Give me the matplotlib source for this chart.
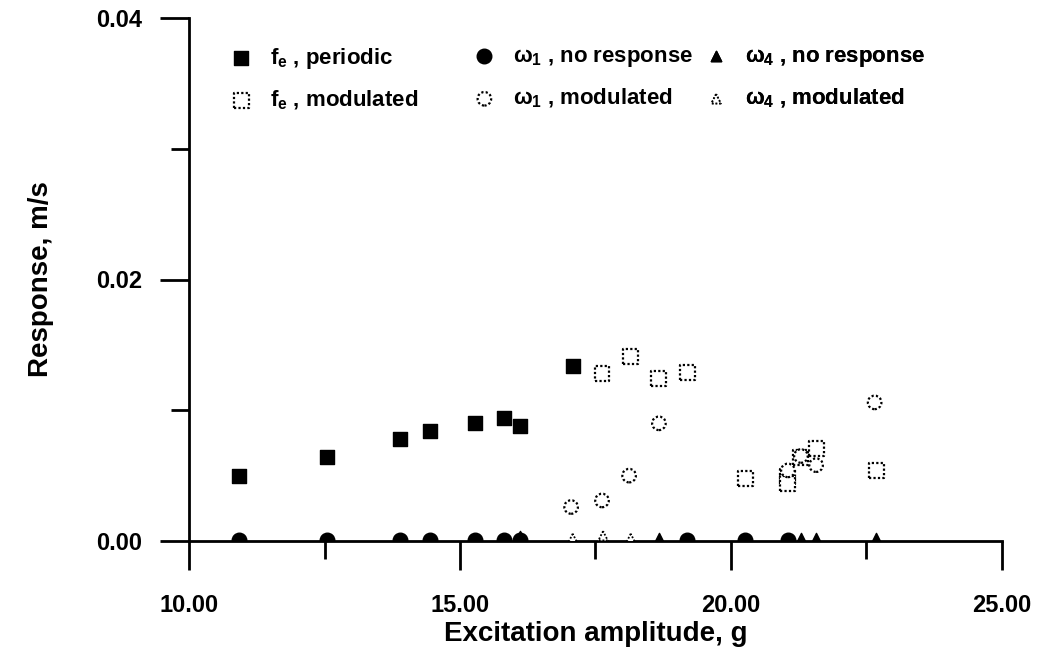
import matplotlib
matplotlib.use("Agg")
import matplotlib.pyplot as plt
from matplotlib.ticker import FixedLocator, FixedFormatter

plt.rcParams["font.family"] = ["Liberation Sans", "DejaVu Sans"]
plt.rcParams["font.weight"] = "bold"
plt.rcParams["mathtext.fontset"] = "custom"
plt.rcParams["mathtext.rm"] = "Liberation Sans:bold"
plt.rcParams["mathtext.it"] = "Liberation Sans:bold"
plt.rcParams["mathtext.bf"] = "Liberation Sans:bold"

# Data
fe_per_x = [10.92, 12.55, 13.89, 14.45, 15.28, 15.81, 16.11, 17.08]
fe_per_y = [0.0050, 0.0064, 0.0078, 0.0084, 0.0090, 0.0094, 0.0088, 0.0134]

fe_mod_x = [17.62, 18.14, 18.67, 19.19, 20.26, 21.05, 21.05, 21.29, 21.57, 22.68]
fe_mod_y = [0.0128, 0.0141, 0.0124, 0.0129, 0.0048, 0.0049, 0.0044, 0.0064, 0.0071, 0.0054]

w1_none_x = [10.92, 12.55, 13.89, 14.45, 15.28, 15.81, 16.11, 19.19, 20.26, 21.05]
w1_none_y = [0.0001, 0.0001, 0.0001, 0.0001, 0.0001, 0.0001, 0.0001, 0.0001, 0.0001, 0.0001]

w1_mod_x = [17.05, 17.62, 18.12, 18.67, 21.05, 21.29, 21.57, 22.65]
w1_mod_y = [0.0026, 0.0031, 0.0050, 0.0090, 0.0054, 0.0065, 0.0058, 0.0106]

w4_none_x = [16.11, 18.67, 21.29, 21.57, 22.68]
w4_none_y = [0.0004, 0.0002, 0.0002, 0.0002, 0.0002]

w4_mod_x = [17.08, 17.64, 18.15]
w4_mod_y = [0.0002, 0.0004, 0.0002]

x_ticks = [10, 15, 20, 25]
x_labels = ["10.00", "15.00", "20.00", "25.00"]
y_ticks = [0.00, 0.02, 0.04]
y_labels = ["0.00", "0.02", "0.04"]

fig = plt.figure(figsize=(10.37, 6.56), dpi=100)
ax = fig.add_axes([189 / 1037, 1 - 541 / 656, 813 / 1037, 523 / 656])

dots = (0, (1, 1))
h1 = ax.scatter(fe_per_x, fe_per_y, marker="s", s=115, c="black", edgecolors="black",
                linewidths=1, label="$f_e$ , periodic", zorder=3)
h2 = ax.scatter(fe_mod_x, fe_mod_y, marker="s", s=115, facecolors="white", edgecolors="black",
                linewidths=1.6, linestyles=dots, label="$f_e$ , modulated", zorder=3)
h3 = ax.scatter(w1_none_x, w1_none_y, marker="o", s=110, c="black", edgecolors="black",
                linewidths=1, label=r"$\omega_1$ , no response", zorder=4)
h4 = ax.scatter(w1_mod_x, w1_mod_y, marker="o", s=95, facecolors="white", edgecolors="black",
                linewidths=1.6, linestyles=dots, label=r"$\omega_1$ , modulated", zorder=3)
h5 = ax.scatter(w4_none_x, w4_none_y, marker="^", s=55, c="black", edgecolors="black",
                linewidths=1, label=r"$\omega_4$ , no response", zorder=4)
h6 = ax.scatter(w4_mod_x, w4_mod_y, marker="^", s=45, facecolors="white", edgecolors="black",
                linewidths=1.3, linestyles=dots, label=r"$\omega_4$ , modulated", zorder=3)

ax.set_xlim(10, 25)
ax.set_ylim(0, 0.04)
ax.spines["top"].set_visible(False)
ax.spines["right"].set_visible(False)
ax.spines["left"].set_linewidth(2)
ax.spines["bottom"].set_linewidth(2)
ax.spines["left"].set_zorder(1)
ax.spines["bottom"].set_zorder(1)

ax.xaxis.set_major_locator(FixedLocator(x_ticks))
ax.xaxis.set_major_formatter(FixedFormatter(x_labels))
ax.xaxis.set_minor_locator(FixedLocator([12.5, 17.5, 22.5]))
ax.yaxis.set_major_locator(FixedLocator(y_ticks))
ax.yaxis.set_major_formatter(FixedFormatter(y_labels))
ax.yaxis.set_minor_locator(FixedLocator([0.01, 0.03]))

ax.tick_params(axis="both", which="major", direction="out", length=21, width=2,
               labelsize=17)
ax.tick_params(axis="both", which="minor", direction="out", length=13, width=2)
ax.tick_params(axis="x", which="major", pad=17)
ax.tick_params(axis="y", which="major", pad=13)
for lab in ax.get_xticklabels() + ax.get_yticklabels():
    lab.set_fontweight("bold")

ax.set_xlabel("Excitation amplitude, g", fontsize=20, fontweight="bold", labelpad=3)
ax.set_ylabel("Response, m/s", fontsize=20, fontweight="bold", labelpad=30)

# one legend per column, placed where the original puts them
cols = [([h1, h2], 0.037), ([h3, h4], 0.336), ([h5, h6], 0.621)]
for hs, x0 in cols:
    leg = ax.legend(handles=hs, loc="upper left", bbox_to_anchor=(x0, 0.963),
                    frameon=False, handletextpad=0.7, labelspacing=0.8,
                    handlelength=1.2, borderaxespad=0,
                    prop={"weight": "bold", "size": 16})
    ax.add_artist(leg)

fig.savefig("out.png", dpi=100)
